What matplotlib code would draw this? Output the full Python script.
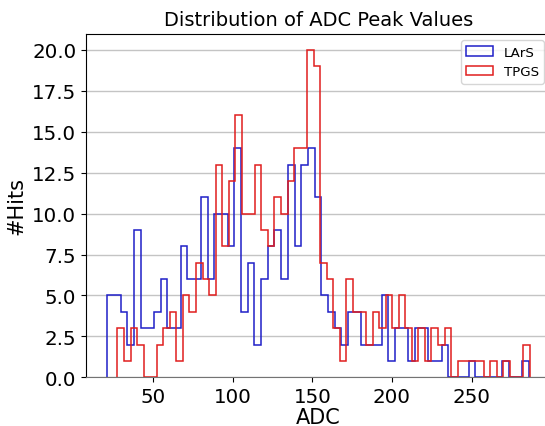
import matplotlib
matplotlib.use("Agg")
import matplotlib.pyplot as plt
from matplotlib.ticker import MultipleLocator, FormatStrFormatter
import numpy as np

# hit counts per bin, 63 equal-width bins over each channel's own ADC range
lars_counts = [5, 5, 4, 2, 9, 3, 3, 4, 6, 3, 3, 8, 6, 6, 11, 6, 10, 10, 8, 14,
               4, 7, 2, 6, 8, 9, 6, 13, 8, 13, 14, 11, 5, 4, 3, 2, 4, 4, 2, 2,
               2, 5, 1, 3, 3, 1, 3, 3, 1, 1, 2, 0, 0, 0, 1, 0, 0, 0, 0, 1,
               0, 0, 1]
tpgs_counts = [3, 1, 3, 2, 0, 0, 2, 3, 4, 1, 5, 4, 7, 6, 5, 13, 8, 12, 16, 10,
               10, 13, 9, 8, 11, 10, 12, 14, 14, 20, 19, 7, 6, 3, 1, 6, 4, 4, 2, 4,
               3, 5, 3, 5, 3, 1, 3, 1, 3, 2, 3, 0, 1, 1, 1, 1, 0, 1, 0, 1,
               0, 0, 2]
lars_range = (21, 286)
tpgs_range = (27.5, 286.5)


def step_hist(ax, counts, adc_range, color, label):
    edges = np.linspace(adc_range[0], adc_range[1], len(counts) + 1)
    centres = 0.5 * (edges[:-1] + edges[1:])
    ax.hist(centres, bins=edges, weights=counts, histtype="step",
            color=color, linewidth=1.1, label=label)


fig = plt.figure(figsize=(5.45, 4.27), dpi=100)
ax = fig.add_axes([0.1578, 0.114, 0.8527, 0.805])

step_hist(ax, lars_counts, lars_range, "#1f1fc8", "LArS")
step_hist(ax, tpgs_counts, tpgs_range, "#e01e1e", "TPGS")

ax.yaxis.set_major_locator(MultipleLocator(2.5))
ax.yaxis.set_major_formatter(FormatStrFormatter("%.1f"))
ax.yaxis.grid(True, color="#c4c4c4", linewidth=1.0)
ax.set_axisbelow(True)
ax.spines["bottom"].set_color("0.45")
ax.tick_params(labelsize=14.3)

ax.set_xlabel("ADC", fontsize=15, labelpad=1)
ax.set_ylabel("#Hits", fontsize=15)
ax.set_title("Distribution of ADC Peak Values", fontsize=14)
ax.legend(loc="upper right", fontsize=9.6)

fig.savefig("out.png", dpi=100)
